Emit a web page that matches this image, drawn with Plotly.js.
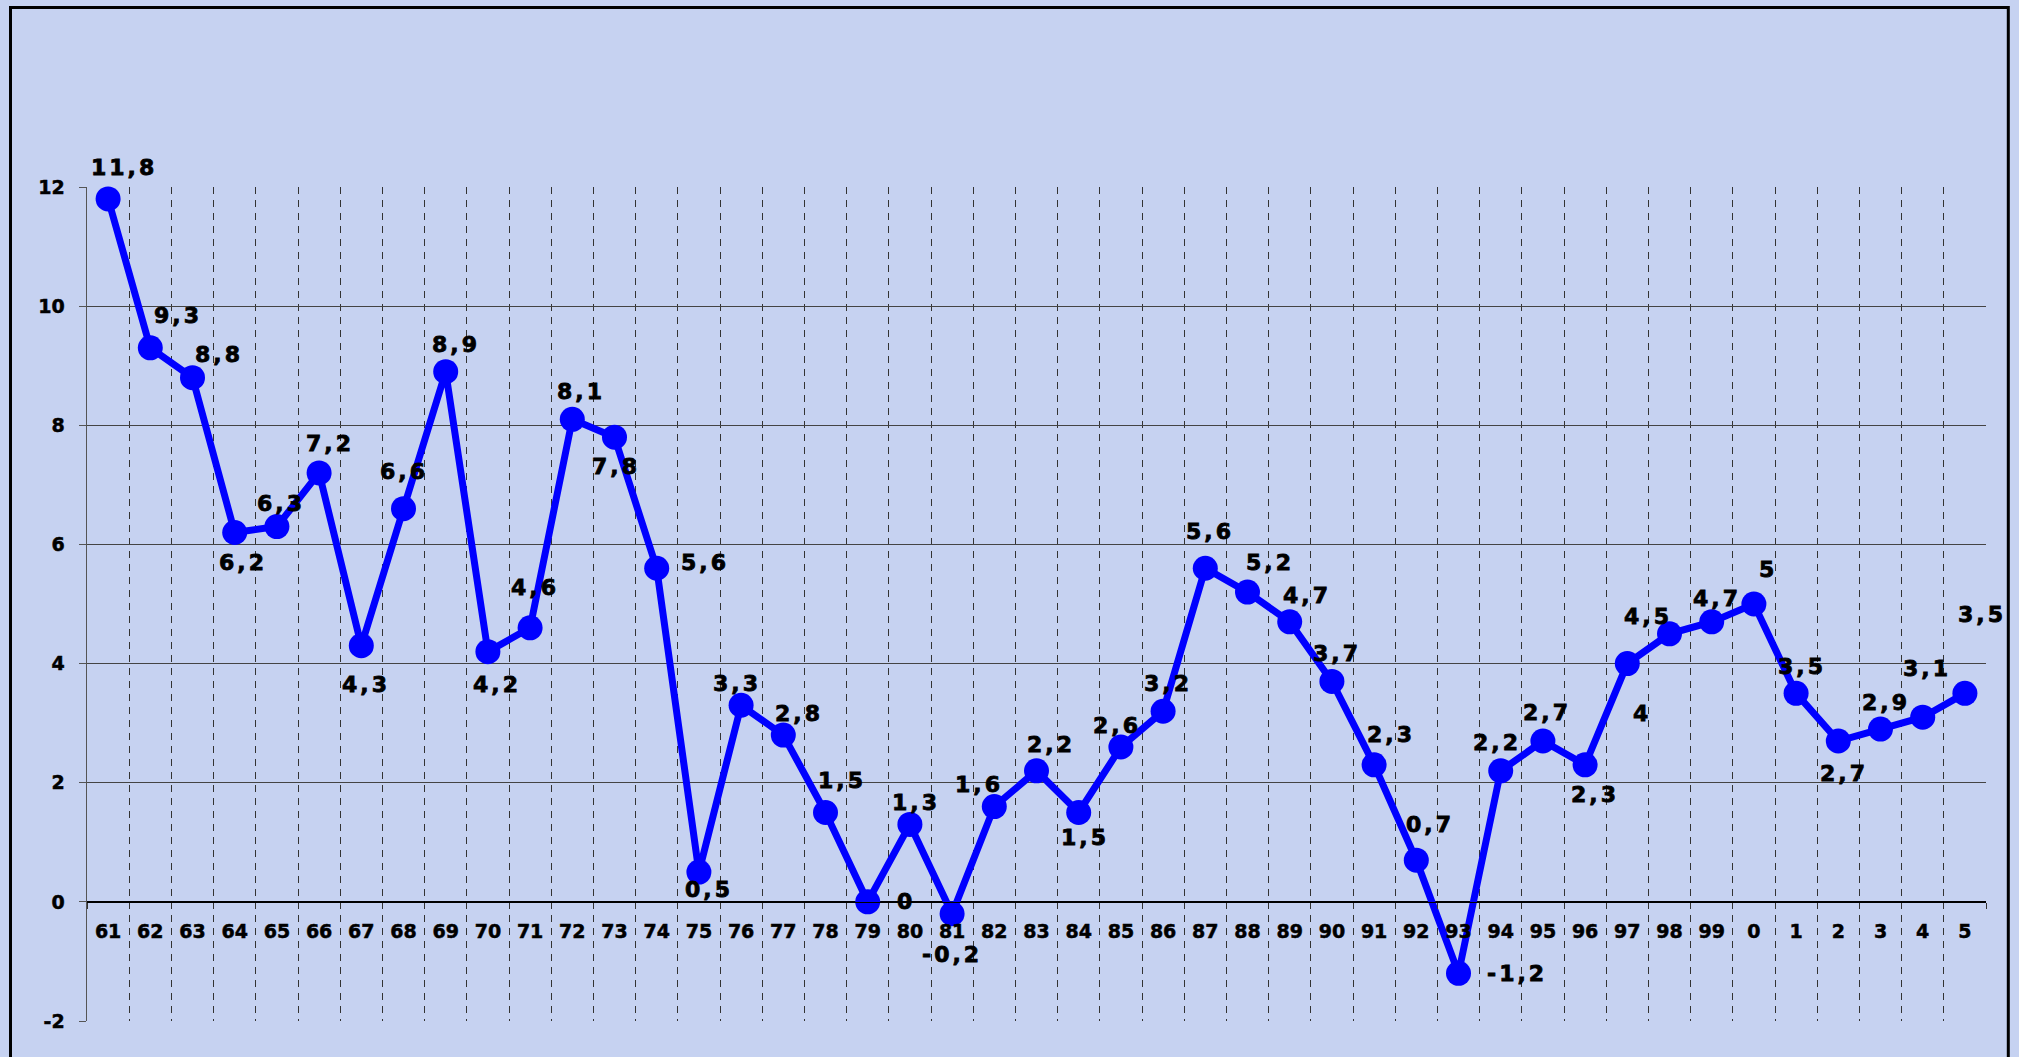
<!DOCTYPE html>
<html>
<head>
<meta charset="utf-8">
<script src="https://cdn.plot.ly/plotly-3.0.1.min.js"></script>
<style>
  html, body { margin: 0; padding: 0; background: #c6d2f1; }
  #chart { width: 2019px; height: 1057px; }
  .annotation-text { letter-spacing: 3px; stroke: #000; stroke-width: 0.8px; }
  .xtick text, .ytick text { stroke: #000; stroke-width: 0.5px; }
</style>
</head>
<body>
<div id="chart"></div>
<script>
// Years (tick labels)
const years = ['61','62','63','64','65','66','67','68','69','70',
               '71','72','73','74','75','76','77','78','79','80',
               '81','82','83','84','85','86','87','88','89','90',
               '91','92','93','94','95','96','97','98','99',
               '0','1','2','3','4','5'];

// Series values
const growth = [11.8, 9.3, 8.8, 6.2, 6.3, 7.2, 4.3, 6.6, 8.9, 4.2,
                4.6, 8.1, 7.8, 5.6, 0.5, 3.3, 2.8, 1.5, 0, 1.3,
                -0.2, 1.6, 2.2, 1.5, 2.6, 3.2, 5.6, 5.2, 4.7, 3.7,
                2.3, 0.7, -1.2, 2.2, 2.7, 2.3, 4, 4.5, 4.7,
                5, 3.5, 2.7, 2.9, 3.1, 3.5];

// Y-axis ticks
const yTicks = [-2, 0, 2, 4, 6, 8, 10, 12];

// Data-label offsets from each point, in pixels (right, down)
const labelDx = [16,28,26,8,4,11,5,0,10,9, 5,9,1,48,10,-4,16,16,38,6,
                 0,-15,14,6,-4,5,5,22,17,5, 17,14,58,-4,4,10,15,-22,5,
                 14,6,6,5,4,17];
const labelDy = [-31,-32,-23,30,-23,-29,39,-37,-27,33, -40,-28,29,-6,17,-22,-22,-32,0,-22,
                 41,-22,-26,25,-21,-28,-37,-30,-26,-28, -30,-36,0,-28,-29,30,50,-17,-23,
                 -35,-27,32,-27,-49,-79];

const fmt = v => String(v).replace('.', ',');

const trace = {
  x: years,
  y: growth,
  type: 'scatter',
  mode: 'lines+markers',
  line: { color: '#0000ff', width: 7 },
  marker: { color: '#0000ff', size: 25 },
  hoverinfo: 'x+y',
  cliponaxis: false
};

// x given as the category index so the axis scale places each label at its point
const annotations = growth.map((v, i) => ({
  x: i,
  y: v,
  xref: 'x',
  yref: 'y',
  text: fmt(v),
  showarrow: false,
  xanchor: 'center',
  yanchor: 'middle',
  xshift: labelDx[i],
  yshift: -labelDy[i],
  font: { family: 'DejaVu Sans, Verdana, sans-serif', size: 22, weight: 'bold', color: '#000' }
}));

const L = 87, R = 33, T = 187, B = 36;
const W = 2019, H = 1057;
const pw = W - L - R, ph = H - T - B;
const px = x => (x - L) / pw;
const py = y => (H - B - y) / ph;

const layout = {
  width: W,
  height: H,
  margin: { l: L, r: R, t: T, b: B, pad: 0 },
  paper_bgcolor: '#c6d2f1',
  plot_bgcolor: 'rgba(0,0,0,0)',
  showlegend: false,
  xaxis: {
    type: 'category',
    categoryorder: 'array',
    categoryarray: years,
    range: [-0.5, years.length - 0.5],
    anchor: 'free',
    position: 2 / 14,
    tickson: 'boundaries',
    showgrid: true,
    gridcolor: '#333',
    gridwidth: 1,
    griddash: '7px,6px',
    showline: true,
    linecolor: '#000',
    linewidth: 1.5,
    ticks: 'outside',
    ticklen: 6,
    tickcolor: '#333',
    ticklabelstandoff: 12,
    tickfont: { family: 'DejaVu Sans, Verdana, sans-serif', size: 19, weight: 'bold', color: '#000' },
    zeroline: false,
    fixedrange: true
  },
  yaxis: {
    range: [-2, 12],
    tickvals: yTicks,
    ticktext: yTicks.map(String),
    showgrid: true,
    gridcolor: '#444',
    gridwidth: 1,
    zeroline: true,
    zerolinecolor: '#000',
    zerolinewidth: 1.5,
    showline: true,
    linecolor: '#555',
    linewidth: 1.5,
    ticks: 'outside',
    ticklen: 7,
    tickcolor: '#555',
    ticklabelstandoff: 10,
    tickfont: { family: 'DejaVu Sans, Verdana, sans-serif', size: 19, weight: 'bold', color: '#000' },
    fixedrange: true
  },
  annotations: annotations,
  shapes: [{
    type: 'rect',
    xref: 'paper', yref: 'paper',
    x0: px(10.5), x1: px(2008.3),
    y0: py(1070), y1: py(7.5),
    line: { color: '#000', width: 3 },
    fillcolor: 'rgba(0,0,0,0)',
    layer: 'above'
  }]
};

Plotly.newPlot('chart', [trace], layout, { displayModeBar: false, staticPlot: true });
</script>
</body>
</html>
